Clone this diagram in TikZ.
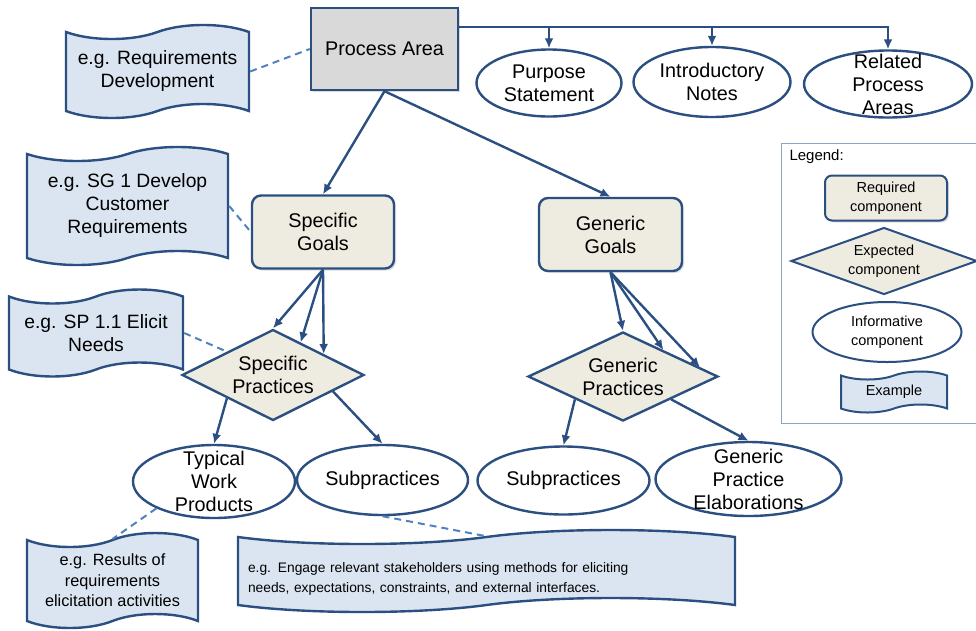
\documentclass[tikz,border=0pt]{standalone}
\usepackage{fontspec}
\setmainfont{Liberation Sans}
\usetikzlibrary{shapes.geometric,shapes.symbols,arrows.meta,calc,shadows}
\definecolor{cmnavy}{HTML}{2B4F81}
\definecolor{cmgray}{HTML}{D9D9D9}
\definecolor{cmbeige}{HTML}{EEECE1}
\definecolor{cmpale}{HTML}{DBE5F1}
\definecolor{cmdash}{HTML}{4F81BD}
\definecolor{cmframe}{HTML}{8DA6C6}

\begin{document}
\begin{tikzpicture}[x=1pt, y=-1pt,
		every node/.style={font=\fontsize{19.8}{23}\selectfont, align=center, text=black},
		area/.style={draw=cmnavy, line width=2.4pt, fill=cmgray, minimum width=147, minimum height=82, drop shadow={opacity=.3, shadow xshift=2pt, shadow yshift=-2pt}},
		goal/.style={draw=cmnavy, line width=2.4pt, fill=cmbeige, rounded corners=9pt, minimum width=142, minimum height=73, drop shadow={opacity=.25, shadow xshift=2pt, shadow yshift=-2pt}},
		practice/.style={diamond, draw=cmnavy, line width=2.4pt, fill=cmbeige, inner sep=-30pt},
		info/.style={ellipse, draw=cmnavy, line width=2.4pt, fill=white, inner sep=-30pt},
		sample/.style={tape, draw=cmnavy, line width=2.4pt, fill=cmpale, inner sep=-30pt, tape bend height=14pt, font=\fontsize{19.3}{23}\selectfont},
		small/.style={font=\fontsize{14.5}{19}\selectfont, line width=2pt},
		link/.style={draw=cmnavy, line width=2.4pt},
		arr/.style={link, -{Latex[length=10pt, width=9pt]}},
		hint/.style={draw=cmdash, line width=2pt, dash pattern=on 7pt off 5pt},
	]
	\useasboundingbox (0,0) rectangle (976,630);
	\node[area] (pa) at (384.5,49) {Process Area};
	\node[info, minimum width=145, minimum height=67] (ps) at (549,83) {Purpose\\Statement};
	\node[info, minimum width=157, minimum height=70] (notes) at (712,82) {Introductory\\Notes};
	\node[info, minimum width=168, minimum height=67] (rel) at (888,84) {Related\\Process\\Areas};
	\node[sample, minimum width=183, minimum height=93] (pax) at (157.5,71.5) {e.g. Requirements\\Development};
	\node[goal] (sg) at (323,232) {Specific\\Goals};
	\node[goal, minimum width=143] (gg) at (610.5,234.5) {Generic\\Goals};
	\node[sample, minimum width=201, minimum height=118] (sgx) at (127.5,206) {e.g. SG 1 Develop\\Customer\\Requirements};
	\node[sample, minimum width=174, minimum height=87] (spx) at (96,333) {e.g. SP 1.1 Elicit\\Needs};
	\node[practice, minimum width=182, minimum height=91] (sp) at (273,375) {Specific\\Practices};
	\node[practice, minimum width=190, minimum height=89] (gp) at (623,376.5) {Generic\\Practices};
	\node[info, minimum width=162, minimum height=73] (twp) at (214,481.5) {Typical\\Work\\Products};
	\node[info, minimum width=171, minimum height=70] (subs) at (382.5,480) {Subpractices};
	\node[info, minimum width=172, minimum height=68] (subg) at (563.5,480.5) {Subpractices};
	\node[info, minimum width=186, minimum height=74] (gpe) at (748.5,479) {Generic\\Practice\\Elaborations};
	\node[sample, minimum width=171, minimum height=95, font=\fontsize{16.3}{20.5}\selectfont] (twpx) at (112.5,580.5) {e.g. Results of\\requirements\\elicitation activities};
	\node[sample, minimum width=497, minimum height=82, text width=477, align=left, font=\fontsize{13.8}{20}\selectfont] (subx) at (486.5,571) {\rule{0pt}{25pt}e.g. Engage relevant stakeholders using methods for eliciting\\needs, expectations, constraints, and external interfaces.};

	\draw[cmframe, line width=1pt] (781,143) rectangle (1000,423);
	\node[anchor=west, font=\fontsize{15}{18}\selectfont] (legtitle) at (786,157) {Legend:};
	\node[goal, small, minimum width=122, minimum height=45, rounded corners=7pt] (lreq) at (886,198) {Required\\component};
	\node[practice, small, minimum width=186, minimum height=67] (lexp) at (884,261) {Expected\\component};
	\node[info, small, minimum width=149, minimum height=60] (linf) at (887,332) {Informative\\component};
	\node[sample, small, minimum width=106, minimum height=41, tape bend height=8pt] (lex) at (894,392) {Example};

	\coordinate (bus) at ([yshift=22pt]pa.east);
	\draw[arr] (bus) -- (bus -| rel.north) -- (rel.north);
	\foreach \n in {ps,notes} \draw[arr] (bus -| \n.north) -- (\n.north);
	\draw[arr] (pa.south) -- (sg.north);
	\draw[arr] (pa.south) -- (gg.north);
	\draw[arr] (sg.south) -- (sp.north);
	\draw[arr] (sg.south) -- ($(sp.north)!.3!(sp.east)$);
	\draw[arr] (sg.south) -- ($(sp.north)!.55!(sp.east)$);
	\draw[arr] (gg.south) -- (gp.north);
	\draw[arr] (gg.south) -- ($(gp.north)!.42!(gp.east)$);
	\draw[arr] (gg.south) -- ($(gp.north)!.8!(gp.east)$);
	\draw[arr] (sp.south west) -- (twp.north);
	\draw[arr] ($(sp.east)!.35!(sp.south)$) -- (subs.north);
	\draw[arr] (gp.south west) -- (subg.north);
	\draw[arr] (gp.south east) -- (gpe.north);

	\draw[hint] (pax.east) -- (pa.west);
	\draw[hint] (sgx.east) -- (sg.west);
	\draw[hint] (spx.east) -- (sp.north west);
	\draw[hint] (twp.205) -- (twpx.north);
	\draw[hint] (subs.south) -- (subx.north);
\end{tikzpicture}
\end{document}
